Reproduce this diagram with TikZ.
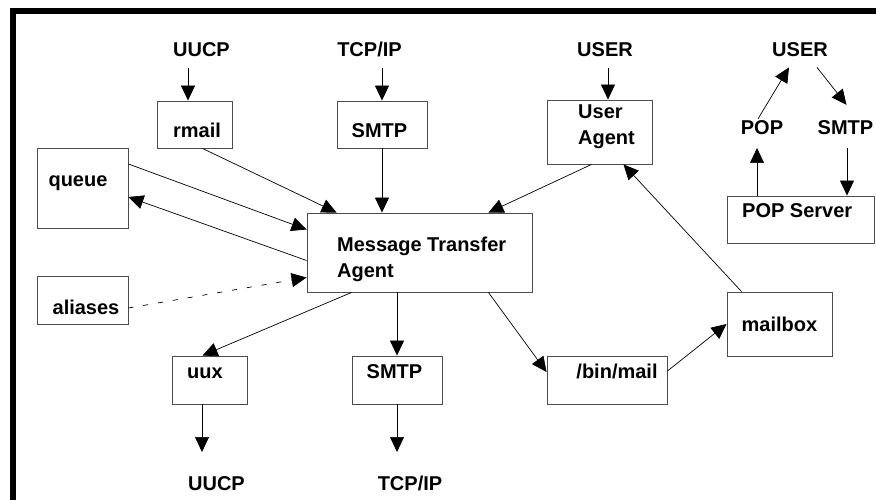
\documentclass[tikz,border=0pt]{standalone}
\usepackage{fontspec}
\setmainfont{Liberation Sans}
\usetikzlibrary{arrows.meta}
\begin{document}
\begin{tikzpicture}[x=1pt,y=-1pt,
  every node/.style={font=\fontsize{20}{26}\selectfont\bfseries, inner sep=0pt},
  box/.style={draw=black!70, line width=0.9pt, rectangle},
  txt/.style={anchor=base},
  arr/.style={line width=0.7pt, -{Triangle[length=15pt,width=14pt]}}]
\useasboundingbox (0,0) rectangle (876,500);
\fill (10,8) rectangle (876,14);
\fill (10,8) rectangle (16,500);

\node[box, minimum width=75pt, minimum height=47pt] (rmail) at (194.5,124.5) {};
\node[box, minimum width=90pt, minimum height=47pt] (smtpIn) at (382,124.5) {};
\node[box, minimum width=91pt, minimum height=80pt] (queue) at (82.5,188) {};
\node[box, minimum width=105pt, minimum height=64pt] (agent) at (599.5,132) {};
\node[box, minimum width=147pt, minimum height=47pt] (popServer) at (800.5,219.5) {};
\node[box, minimum width=225pt, minimum height=79pt] (mta) at (419.5,252.5) {};
\node[box, minimum width=91pt, minimum height=48pt] (aliases) at (82.5,300) {};
\node[box, minimum width=75pt, minimum height=48pt] (uux) at (209.5,380) {};
\node[box, minimum width=90pt, minimum height=48pt] (smtpOut) at (397,380) {};
\node[box, minimum width=120pt, minimum height=48pt] (binMail) at (607,380) {};
\node[box, minimum width=105pt, minimum height=64pt] (mailbox) at (779.5,324) {};

\node[txt] (uucpIn) at (201.5,57) {UUCP};
\node[txt] (tcpIn) at (369.5,57) {TCP/IP};
\node[txt] (userMid) at (605,57) {USER};
\node[txt] (userRight) at (800,57) {USER};
\node[txt] (popLbl) at (762,135) {POP};
\node[txt] (smtpLbl) at (845.5,135) {SMTP};
\node[txt] (rmailTxt) at (197,138) {rmail};
\node[txt] (smtpInTxt) at (379.5,138) {SMTP};
\node[txt] (queueTxt) at (78,186) {queue};
\node[txt, anchor=base west, align=left] (agentTxt) at (578,145) {User\\Agent};
\node[txt, anchor=base west] (popServerTxt) at (742,218) {POP Server};
\node[txt, anchor=base west, align=left] (mtaTxt) at (337,277) {Message Transfer\\Agent};
\node[txt] (aliasesTxt) at (86,314) {aliases};
\node[txt] (uuxTxt) at (205,378) {uux};
\node[txt] (smtpOutTxt) at (394.5,378) {SMTP};
\node[txt] (binMailTxt) at (617,378) {/bin/mail};
\node[txt] (mailboxTxt) at (779.5,331) {mailbox};
\node[txt] (uucpOut) at (216.5,490) {UUCP};
\node[txt] (tcpOut) at (410,490) {TCP/IP};

\coordinate (uucpInEnd) at (188,68);
\coordinate (tcpInEnd) at (382,68);
\coordinate (userMidEnd) at (608,68);
\coordinate (uucpOutEnd) at (202,452);
\coordinate (tcpOutEnd) at (397,452);
\coordinate (popTip) at (757,148);
\coordinate (smtpTail) at (847,148);

\draw[arr] (uucpInEnd) -- (uucpInEnd |- rmail.north);
\draw[arr] (tcpInEnd) -- (tcpInEnd |- smtpIn.north);
\draw[arr] (userMidEnd) -- (userMidEnd |- agent.north);
\draw[arr] ([xshift=8pt]rmail.south) -- ([xshift=30pt]mta.north west);
\draw[arr] (smtpIn.south) -- (smtpIn.south |- mta.north);
\draw[arr] ([yshift=24pt]queue.east) -- ([yshift=23pt]mta.west);
\draw[arr] ([yshift=-8pt]mta.west) -- ([yshift=-9pt]queue.east);
\draw[arr, dash pattern=on 5pt off 10pt] ([yshift=-8pt]aliases.east) -- ([yshift=-25pt]mta.west);
\draw[arr] ([xshift=-8pt]agent.south) -- ([xshift=-44pt]mta.north east);
\draw[arr] ([xshift=-38pt]mailbox.north) -- ([xshift=24pt]agent.south);
\draw[arr] ([xshift=45pt]mta.south west) -- ([xshift=31pt]uux.north west);
\draw[arr] (smtpOut.north |- mta.south) -- (smtpOut.north);
\draw[arr] ([xshift=-44pt]mta.south east) -- ([yshift=8pt]binMail.west);
\draw[arr] ([yshift=9pt]binMail.east) -- (mailbox.west);
\draw[arr] (uucpOutEnd |- uux.south) -- (uucpOutEnd);
\draw[arr] (tcpOutEnd |- smtpOut.south) -- (tcpOutEnd);
\draw[arr] (popTip |- popServer.north) -- (popTip);
\draw[arr] (smtpTail) -- (smtpTail |- popServer.north);
\draw[arr] ([xshift=-4pt,yshift=2pt]popLbl.north) -- ([shift={(-11pt,-10pt)}]userRight.south);
\draw[arr] ([shift={(17pt,-10pt)}]userRight.south) -- ([shift={(1pt,16pt)}]smtpLbl.north);
\end{tikzpicture}
\end{document}
